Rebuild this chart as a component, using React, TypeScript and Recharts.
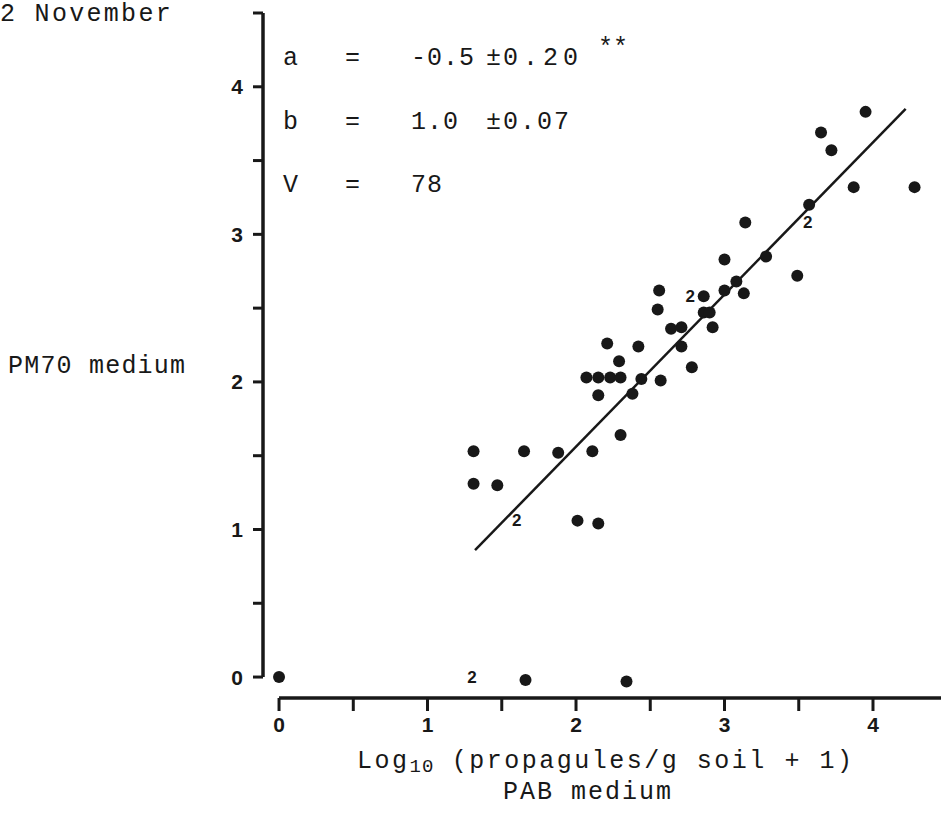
import { ScatterChart, Scatter, XAxis, YAxis, ReferenceLine } from 'recharts';

// log10 propagules, PAB medium (x) vs PM70 medium (y)
const pabValues = [
  0.0, 1.66, 2.34, 1.31, 1.31, 1.47, 1.65, 1.88, 2.11, 2.01, 2.15, 2.30,
  2.15, 2.38, 2.07, 2.15, 2.23, 2.30, 2.44, 2.57, 2.29, 2.21, 2.42, 2.55,
  2.56, 2.64, 2.71, 2.71, 2.78, 2.86, 2.90, 2.92, 2.86, 3.00, 3.08, 3.13,
  3.00, 3.28, 3.14, 3.49, 3.57, 3.65, 3.72, 3.87, 3.95, 4.28,
];
const pm70Values = [
  0.0, -0.02, -0.03, 1.53, 1.31, 1.30, 1.53, 1.52, 1.53, 1.06, 1.04, 1.64,
  1.91, 1.92, 2.03, 2.03, 2.03, 2.03, 2.02, 2.01, 2.14, 2.26, 2.24, 2.49,
  2.62, 2.36, 2.37, 2.24, 2.10, 2.47, 2.47, 2.37, 2.58, 2.62, 2.68, 2.60,
  2.83, 2.85, 3.08, 2.72, 3.20, 3.69, 3.57, 3.32, 3.83, 3.32,
];

// places where two samples coincide, marked "2"
const doubleX = [1.30, 1.60, 2.77, 3.56];
const doubleY = [0.0, 1.06, 2.58, 3.08];

// fitted regression line ends
const fitX = [1.32, 4.22];
const fitY = [0.86, 3.85];

const xTicks = [0, 0.5, 1, 1.5, 2, 2.5, 3, 3.5, 4];
const yTicks = [0, 0.5, 1, 1.5, 2, 2.5, 3, 3.5, 4, 4.5];

const X_MIN = -0.108;
const X_MAX = 4.458;
const Y_MIN = -0.142;
const Y_MAX = 4.5;

const points = pabValues.map((x, i) => ({ x, y: pm70Values[i] }));
const doubles = doubleX.map((x, i) => ({ x, y: doubleY[i] }));
const fit = fitX.map((x, i) => ({ x, y: fitY[i] }));

const INK = '#181818';
const mono = '"Liberation Mono", "DejaVu Sans Mono", monospace';
const tickFont = { fontFamily: '"Liberation Sans", Arial, sans-serif', fontWeight: 700, fontSize: 21, fill: INK };

const intLabel = (v: number) => (Number.isInteger(v) ? String(v) : '');

const Dot = (props: any) => <circle cx={props.cx} cy={props.cy} r={6} fill={INK} />;

const Two = (props: any) => (
  <text
    x={props.cx}
    y={props.cy}
    textAnchor="middle"
    dominantBaseline="central"
    fontFamily='"Liberation Sans", Arial, sans-serif'
    fontWeight={700}
    fontSize={17}
    fill={INK}
  >
    2
  </text>
);

const txt = (left: number, top: number, spacing: number, size = 25): React.CSSProperties => ({
  position: 'absolute',
  left,
  top,
  fontFamily: mono,
  fontSize: size,
  letterSpacing: spacing,
  color: INK,
  lineHeight: '26px',
  whiteSpace: 'nowrap',
});

export default function App() {
  return (
    <div style={{ position: 'relative', width: 941, height: 814, background: '#fff' }}>
      <style>{`body{margin:0}`}</style>
      <ScatterChart width={941} height={814} margin={{ top: 13, right: 0, bottom: 86, left: 203 }}>
        <XAxis
          type="number"
          dataKey="x"
          domain={[X_MIN, X_MAX]}
          allowDataOverflow
          ticks={xTicks}
          tickFormatter={intLabel}
          axisLine={false}
          tickLine={{ stroke: INK, strokeWidth: 3 }}
          tickSize={13}
          tickMargin={6}
          tick={tickFont}
          height={30}
        />
        <YAxis
          type="number"
          dataKey="y"
          domain={[Y_MIN, Y_MAX]}
          allowDataOverflow
          ticks={yTicks}
          tickFormatter={intLabel}
          axisLine={false}
          tickLine={{ stroke: INK, strokeWidth: 3 }}
          tickSize={10}
          tickMargin={10}
          tick={tickFont}
          width={60}
        />
        <ReferenceLine
          segment={[{ x: X_MIN, y: 0 }, { x: X_MIN, y: Y_MAX }]}
          stroke={INK}
          strokeWidth={3.5}
          ifOverflow="visible"
        />
        <ReferenceLine
          segment={[{ x: 0, y: Y_MIN }, { x: X_MAX, y: Y_MIN }]}
          stroke={INK}
          strokeWidth={3.5}
          ifOverflow="visible"
        />
        <ReferenceLine
          segment={[fit[0], fit[1]]}
          stroke={INK}
          strokeWidth={2.5}
          ifOverflow="visible"
        />
        <Scatter data={points} shape={Dot} isAnimationActive={false} />
        <Scatter data={doubles} shape={Two} isAnimationActive={false} />
      </ScatterChart>

      <div style={txt(0, 2, 2.3)}>2 November</div>
      <div style={txt(8, 354, 1.2)}>PM70 medium</div>

      <div style={txt(283, 46, 0)}>a</div>
      <div style={txt(345, 46, 0)}>=</div>
      <div style={txt(411, 46, 1)}>-0.5</div>
      <div style={txt(486, 46, 0)}>±</div>
      <div style={txt(503, 46, 5)}>0.20</div>
      <div style={txt(598, 36, 0)}>**</div>

      <div style={txt(283, 110, 0)}>b</div>
      <div style={txt(345, 110, 0)}>=</div>
      <div style={txt(411, 110, 1)}>1.0</div>
      <div style={txt(486, 110, 0)}>±</div>
      <div style={txt(503, 110, 2)}>0.07</div>

      <div style={txt(283, 173, 0)}>V</div>
      <div style={txt(345, 173, 0)}>=</div>
      <div style={txt(411, 173, 1)}>78</div>

      <div style={txt(357, 749, 2.5)}>
        Log<sub style={{ fontSize: 19, letterSpacing: 1, verticalAlign: '-4px' }}>10</sub> (propagules/g soil + 1)
      </div>
      <div style={txt(503, 780, 2)}>PAB medium</div>
    </div>
  );
}
